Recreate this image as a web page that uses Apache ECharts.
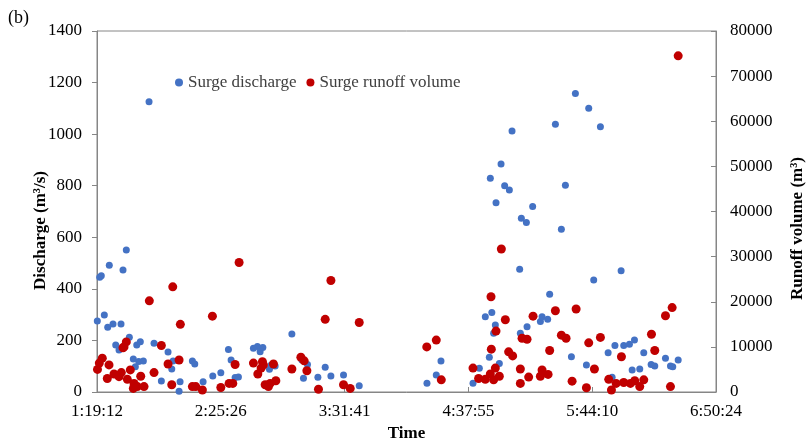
<!DOCTYPE html>
<html>
<head>
<meta charset="utf-8">
<script src="https://cdn.jsdelivr.net/npm/echarts@6/dist/echarts.min.js"></script>
<style>
  html, body { margin: 0; padding: 0; background: #fff; }
  #chart { width: 806px; height: 441px; }
</style>
</head>
<body>
<div id="chart"></div>
<script>
// Time axis runs from 1:19:12 to 6:50:24 (seconds after midnight), split into 5 equal steps
const AXIS_START = 4752;
const AXIS_END = 24624;
const TICK_STEP = (AXIS_END - AXIS_START) / 5;

// Surge discharge (m3/s): event time (s after midnight) and value
const dischargeTimes = [
  4762, 4839, 4890, 4987, 5096, 5147, 5266, 5353, 5459, 5523, 5587, 5693, 5790, 5918, 5983, 6028,
  6092, 6143, 6240, 6423, 6583, 6818, 7033, 7152, 7194, 7387, 7419, 7814, 7891, 8158, 8469, 8727,
  8971, 9057, 9186, 9292, 9774, 9902, 9989, 10076, 10288, 10343, 10471, 11008, 11329, 11380, 11509,
  11843, 12078, 12261, 12666, 13170, 15345, 15644, 15795, 16823, 17026, 17218, 17347, 17427, 17379,
  17485, 17540, 17562, 17668, 17723, 17839, 17990, 18076, 18321, 18343, 18375, 18536, 18558, 18738,
  18986, 19040, 19220, 19284, 19468, 19660, 19789, 19982, 20110, 20464, 20538, 20698, 20913, 21161,
  21289, 21379, 21578, 21662, 21845, 21932, 22006, 22176, 22305, 22542, 22658, 23002, 23162, 23236,
  23410
];
const dischargeValues = [
  275, 445, 451, 299, 251, 492, 264, 182, 163, 264, 473, 551, 212, 128, 98, 182,
  118, 195, 120, 1126, 189, 43, 155, 89, 120, 3, 40, 120, 109, 40, 62, 75,
  165, 124, 56, 58, 170, 176, 156, 173, 88, 105, 101, 225, 124, 53, 107,
  57, 96, 62, 66, 24, 34, 66, 120, 34, 92, 292, 135, 308, 829,
  228, 260, 734, 111, 884, 800, 783, 1012, 476, 228, 674, 657, 253, 719,
  273, 292, 282, 379, 1038, 631, 802, 137, 1158, 105, 1100, 434, 1029, 152,
  57, 180, 470, 180, 185, 85, 202, 89, 152, 107, 101, 131, 101, 98,
  124
];

// Surge runoff volume (m3): event time (s after midnight) and value
const volumeTimes = [
  4768, 4826, 4922, 5083, 5138, 5298, 5459, 5533, 5587, 5619, 5693, 5726, 5822, 5918, 5941, 6047,
  6156, 6262, 6432, 6583, 6818, 7033, 7152, 7184, 7387, 7428, 7814, 7923, 8135, 8457, 8727, 8993,
  9112, 9186, 9314, 9774, 9915, 10021, 10063, 10095, 10150, 10256, 10310, 10417, 10494, 11008, 11297,
  11403, 11490, 11862, 12078, 12261, 12666, 12881, 13170, 15339, 15644, 15805, 16823, 17003, 17218,
  17379, 17401, 17411, 17485, 17540, 17562, 17668, 17733, 17861, 17967, 18096, 18343, 18343, 18398,
  18558, 18610, 18751, 18986, 19040, 19233, 19284, 19468, 19660, 19811, 20004, 20133, 20464, 20538,
  20721, 20913, 21180, 21267, 21418, 21588, 21662, 21877, 22015, 22176, 22305, 22552, 22658, 23002,
  23162, 23216, 23410
];
const volumeValues = [
  5000, 6400, 7500, 3000, 6000, 4000, 3400, 4300, 9800, 10000, 11100, 2800, 4900, 800, 1900, 1200,
  3500, 1200, 20200, 4300, 10300, 6200, 1600, 23300, 7100, 15000, 1200, 1200, 450, 16800, 1000, 1900,
  1900, 6100, 28700, 6400, 4000, 5300, 6700, 6000, 1600, 1200, 1900, 6200, 2500, 5100, 7700,
  6900, 4700, 600, 16100, 24700, 1600, 800, 15400, 10000, 11500, 2700, 5300, 3000, 2800,
  4000, 21100, 9500, 2700, 5300, 13500, 3500, 31700, 16000, 8900, 8000, 5100, 1900, 11900,
  11700, 3300, 16800, 3500, 4900, 3900, 9200, 18000, 12600, 11900, 2400, 18400, 950, 10900,
  5100, 12100, 2800, 450, 1900, 7800, 2100, 1900, 2500, 1200, 2700, 12800, 9200, 16900,
  1200, 18700, 74500
];

const seriesNames = ['Surge discharge', 'Surge runoff volume'];
const seriesColors = ['#4472C4', '#C00000'];

const FONT = '"Liberation Serif", "Times New Roman", serif';

function pad2(n) { return (n < 10 ? '0' : '') + n; }
function formatClock(sec) {
  const s = Math.round(sec);
  const h = Math.floor(s / 3600);
  const m = Math.floor((s % 3600) / 60);
  return h + ':' + pad2(m) + ':' + pad2(s % 60);
}
function toPoints(times, values) {
  return times.map((t, i) => [t - AXIS_START, values[i]]);
}

const axisGray = '#868686';
const labelStyle = { color: '#000', fontFamily: FONT, fontSize: 17 };
const nameStyle = { color: '#000', fontFamily: FONT, fontSize: 17, fontWeight: 'bold' };

const chart = echarts.init(document.getElementById('chart'), null, { renderer: 'canvas' });
chart.setOption({
  animation: false,
  backgroundColor: '#fff',
  textStyle: { fontFamily: FONT },
  grid: {
    left: 97, right: 90, top: 31, bottom: 49,
    containLabel: false, outerBoundsMode: 'none',
    show: true, borderColor: axisGray, borderWidth: 1, backgroundColor: 'transparent'
  },
  graphic: [{
    type: 'text', left: 8, top: 9,
    style: { text: '(b)', font: '18px ' + FONT, fill: '#000' }
  }],
  legend: {
    left: 170, top: 69,
    itemWidth: 8, itemHeight: 8, itemGap: 10,
    icon: 'circle',
    textStyle: { color: '#404040', fontFamily: FONT, fontSize: 17 },
    data: seriesNames
  },
  xAxis: {
    type: 'value',
    min: 0, max: AXIS_END - AXIS_START, interval: TICK_STEP,
    name: 'Time', nameLocation: 'middle', nameGap: 33, nameTextStyle: nameStyle,
    nameMoveOverlap: false,
    axisLine: { lineStyle: { color: axisGray } },
    axisTick: { inside: true, length: 5, lineStyle: { color: axisGray } },
    axisLabel: Object.assign({ margin: 11, formatter: v => formatClock(v + AXIS_START) }, labelStyle),
    splitLine: { show: false }
  },
  yAxis: [{
    type: 'value', position: 'left',
    min: 0, max: 1400, interval: 200,
    name: 'Discharge (m³/s)', nameLocation: 'middle', nameGap: 48, nameRotate: 90,
    nameMoveOverlap: false,
    nameTextStyle: Object.assign({ padding: [0, 38, 0, 0] }, nameStyle),
    axisLine: { show: true, lineStyle: { color: axisGray } },
    axisTick: { show: true, inside: false, length: 5, lineStyle: { color: axisGray } },
    axisLabel: Object.assign({ margin: 15, formatter: v => String(v) }, labelStyle),
    splitLine: { show: false }
  }, {
    type: 'value', position: 'right',
    min: 0, max: 80000, interval: 10000,
    name: 'Runoff volume (m³)', nameLocation: 'middle', nameGap: 73, nameRotate: 90,
    nameMoveOverlap: false,
    nameTextStyle: Object.assign({ padding: [0, 34, 0, 0] }, nameStyle),
    axisLine: { show: true, lineStyle: { color: axisGray } },
    axisTick: { show: true, inside: true, length: 5, lineStyle: { color: axisGray } },
    axisLabel: Object.assign({ margin: 14, formatter: v => String(v) }, labelStyle),
    splitLine: { show: false }
  }],
  series: [{
    name: seriesNames[0], type: 'scatter', yAxisIndex: 0,
    symbolSize: 7, itemStyle: { color: seriesColors[0], opacity: 1 },
    data: toPoints(dischargeTimes, dischargeValues), z: 2
  }, {
    name: seriesNames[1], type: 'scatter', yAxisIndex: 1,
    symbolSize: 9, itemStyle: { color: seriesColors[1], opacity: 1 },
    data: toPoints(volumeTimes, volumeValues), z: 3
  }]
});
</script>
</body>
</html>
